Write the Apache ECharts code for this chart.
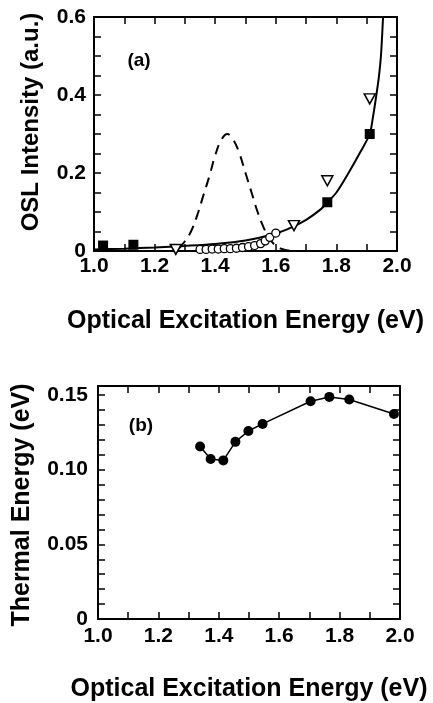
<!DOCTYPE html>
<html>
<head>
<meta charset="utf-8">
<script src="https://cdn.jsdelivr.net/npm/echarts@6/dist/echarts.min.js"></script>
<style>
  html, body { margin: 0; padding: 0; background: #fff; }
  #main { width: 433px; height: 703px; }
</style>
</head>
<body>
<div id="main"></div>
<script>
// panel (a): OSL intensity vs optical excitation energy
var fitCurve = [
    [1.00, 0.004], [1.10, 0.006], [1.20, 0.009], [1.30, 0.013], [1.40, 0.018],
    [1.50, 0.027], [1.60, 0.045], [1.65, 0.060], [1.70, 0.080], [1.75, 0.108],
    [1.77, 0.125], [1.80, 0.150], [1.84, 0.200], [1.88, 0.255], [1.91, 0.300],
    [1.92, 0.340], [1.93, 0.390], [1.94, 0.445], [1.947, 0.500], [1.954, 0.600]
];
var bandCurve = [
    [1.28, 0.006], [1.30, 0.025], [1.32, 0.050], [1.34, 0.090], [1.36, 0.140],
    [1.38, 0.190], [1.40, 0.245], [1.42, 0.285], [1.44, 0.300], [1.46, 0.285],
    [1.48, 0.250], [1.50, 0.200], [1.52, 0.150], [1.54, 0.100], [1.56, 0.060],
    [1.58, 0.030], [1.60, 0.014], [1.62, 0.005], [1.65, 0.000]
];
var squares = [[1.03, 0.014], [1.13, 0.016], [1.77, 0.125], [1.91, 0.300]];
var triangles = [[1.27, 0.004], [1.66, 0.065], [1.77, 0.180], [1.91, 0.390]];
var circles = [
    [1.35, 0.004], [1.37, 0.004], [1.39, 0.005], [1.41, 0.005], [1.43, 0.006],
    [1.45, 0.006], [1.47, 0.007], [1.49, 0.009], [1.51, 0.011], [1.53, 0.014],
    [1.55, 0.019], [1.565, 0.026], [1.58, 0.035], [1.60, 0.046]
];
// panel (b): thermal energy vs optical excitation energy
var thermal = [
    [1.338, 0.1155], [1.373, 0.1071], [1.415, 0.1062], [1.455, 0.1186],
    [1.498, 0.1259], [1.545, 0.1306], [1.704, 0.1458], [1.766, 0.1487],
    [1.832, 0.1470], [1.980, 0.1372]
];

var FONT = '"Liberation Sans", Arial, sans-serif';

function isStep(v, step) {
    var r = v / step;
    return Math.abs(r - Math.round(r)) < 1e-6;
}

function boxAxis(opt) {
    var ax = {
        type: 'value',
        gridIndex: opt.grid,
        min: opt.min,
        max: opt.max,
        interval: opt.interval,
        position: opt.position,
        axisLine: {show: true, onZero: false, lineStyle: {color: '#000', width: 2}},
        axisTick: {show: true, inside: true, length: 7, lineStyle: {color: '#000', width: 1.5}},
        splitLine: {show: false},
        axisLabel: {show: false}
    };
    if (opt.labels) {
        ax.axisLabel = {
            show: true,
            margin: opt.margin,
            showMaxLabel: opt.showMax !== false,
            color: '#000',
            fontFamily: FONT,
            fontWeight: 'bold',
            fontSize: 21,
            formatter: function (v) {
                if (!isStep(v, opt.labelStep)) return '';
                if (Math.abs(v) < 1e-9) return '0';
                return v.toFixed(opt.digits);
            }
        };
    }
    if (opt.name) {
        ax.name = opt.name;
        ax.nameLocation = 'middle';
        ax.nameGap = opt.nameGap;
        ax.nameTextStyle = {color: '#000', fontFamily: FONT, fontWeight: 'bold', fontSize: 25};
    }
    return ax;
}

var myChart = echarts.init(document.getElementById('main'));
var option = {
    backgroundColor: '#fff',
    animation: false,
    grid: [
        {left: 94, top: 17, width: 303, height: 234},
        {left: 98, top: 386, width: 302, height: 235}
    ],
    xAxis: [
        boxAxis({grid: 0, min: 1, max: 2, interval: 0.1, position: 'bottom', labels: true,
            labelStep: 0.2, digits: 1, margin: 5,
            name: 'Optical Excitation Energy (eV)', nameGap: 58}),
        boxAxis({grid: 0, min: 1, max: 2, interval: 0.1, position: 'top'}),
        boxAxis({grid: 1, min: 1, max: 2, interval: 0.1, position: 'bottom', labels: true,
            labelStep: 0.2, digits: 1, margin: 7,
            name: 'Optical Excitation Energy (eV)', nameGap: 58}),
        boxAxis({grid: 1, min: 1, max: 2, interval: 0.1, position: 'top'})
    ],
    yAxis: [
        boxAxis({grid: 0, min: 0, max: 0.6, interval: 0.05, position: 'left', labels: true,
            labelStep: 0.2, digits: 1, margin: 8}),
        boxAxis({grid: 0, min: 0, max: 0.6, interval: 0.05, position: 'right'}),
        boxAxis({grid: 1, min: 0, max: 0.156, interval: 0.01, position: 'left', labels: true,
            labelStep: 0.05, digits: 2, margin: 10, showMax: false}),
        boxAxis({grid: 1, min: 0, max: 0.156, interval: 0.01, position: 'right'})
    ],
    graphic: [
        {type: 'text', x: 31, y: 122, rotation: Math.PI / 2,
            style: {text: 'OSL Intensity (a.u.)', fill: '#000', font: 'bold 24px ' + FONT,
                align: 'center', verticalAlign: 'middle'}},
        {type: 'text', x: 22, y: 505, rotation: Math.PI / 2,
            style: {text: 'Thermal Energy (eV)', fill: '#000', font: 'bold 25px ' + FONT,
                align: 'center', verticalAlign: 'middle'}},
        {type: 'text', x: 139, y: 61,
            style: {text: '(a)', fill: '#000', font: 'bold 19px ' + FONT,
                align: 'center', verticalAlign: 'middle'}},
        {type: 'text', x: 141, y: 426,
            style: {text: '(b)', fill: '#000', font: 'bold 19px ' + FONT,
                align: 'center', verticalAlign: 'middle'}}
    ],
    series: [
        {
            name: 'fit', type: 'line', xAxisIndex: 0, yAxisIndex: 0,
            data: fitCurve, smooth: 0.3, showSymbol: false, symbol: 'none',
            lineStyle: {color: '#000', width: 2}, z: 3
        },
        {
            name: 'band', type: 'line', xAxisIndex: 0, yAxisIndex: 0,
            data: bandCurve, smooth: 0.4, showSymbol: false, symbol: 'none',
            lineStyle: {color: '#000', width: 2, type: [10, 7]}, z: 2
        },
        {
            name: 'circles', type: 'scatter', xAxisIndex: 0, yAxisIndex: 0,
            data: circles, symbol: 'circle', symbolSize: 8,
            itemStyle: {color: '#fff', borderColor: '#000', borderWidth: 1.3, opacity: 1}, z: 4
        },
        {
            name: 'triangles', type: 'scatter', xAxisIndex: 0, yAxisIndex: 0,
            data: triangles, symbol: 'triangle', symbolRotate: 180, symbolSize: [11, 10],
            itemStyle: {color: '#fff', borderColor: '#000', borderWidth: 1.5, opacity: 1}, z: 4
        },
        {
            name: 'squares', type: 'scatter', xAxisIndex: 0, yAxisIndex: 0,
            data: squares, symbol: 'rect', symbolSize: 10,
            itemStyle: {color: '#000', opacity: 1}, z: 5
        },
        {
            name: 'thermal', type: 'line', xAxisIndex: 2, yAxisIndex: 2,
            data: thermal, symbol: 'circle', symbolSize: 10, showSymbol: true,
            lineStyle: {color: '#000', width: 1.5},
            itemStyle: {color: '#000', opacity: 1}, z: 4
        }
    ]
};
myChart.setOption(option);
</script>
</body>
</html>
